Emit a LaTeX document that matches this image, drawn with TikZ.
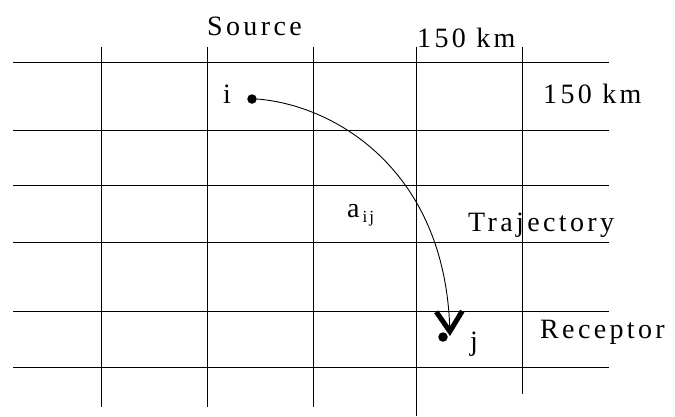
\documentclass[tikz,border=0pt]{standalone}
\usepackage{fontspec}
\setmainfont{Liberation Serif}
\usetikzlibrary{arrows.meta}
\newfontfamily\gridfont[LetterSpace=12]{Liberation Serif}
\tikzset{
 gridline/.style={line width=1pt,draw=black},
 lbl/.style={anchor=base west,inner sep=0pt,font=\fontsize{28}{28}\gridfont},
 cell/.style={circle,fill=black,inner sep=0pt,minimum size=9.5pt},
 traj/.style={line width=0.9pt,-{Straight Barb[length=20pt,width=26pt,line width=5pt]}}}
\begin{document}
\begin{tikzpicture}[x=1pt,y=-1pt]
\useasboundingbox (0,0) rectangle (675,416);
% grid
\foreach \yy in {62,130,185,242,311,367}
  \draw[gridline] (13,\yy) -- (609,\yy);
\foreach \xx/\yend in {101/407,207/407,313/407,416/416,522/394}
  \draw[gridline] (\xx,47) -- (\xx,\yend);
% labels
\node[lbl] (source) at (207,35) {Source};
\node[lbl] (kmtop) at (417,47) {150 km};
\node[lbl] (kmright) at (543,103) {150 km};
\node[lbl] (trajlbl) at (468,231) {Trajectory};
\node[lbl] (receptor) at (540,338) {Receptor};
\node[lbl] (ilbl) at (223,103) {i};
\node[lbl] (jlbl) at (470,350) {j};
\node[lbl] (aij) at (347,217) {a\hspace{3pt}\raisebox{-5pt}{\fontsize{17}{17}\gridfont ij}};
% source and receptor cells
\node[cell] (celli) at (252,99) {};
\node[cell] (cellj) at (443,337) {};
\coordinate (tipj) at (450,336);
\draw[traj] (celli.east) .. controls (335,105) and (445,170) .. (tipj);
\end{tikzpicture}
\end{document}
